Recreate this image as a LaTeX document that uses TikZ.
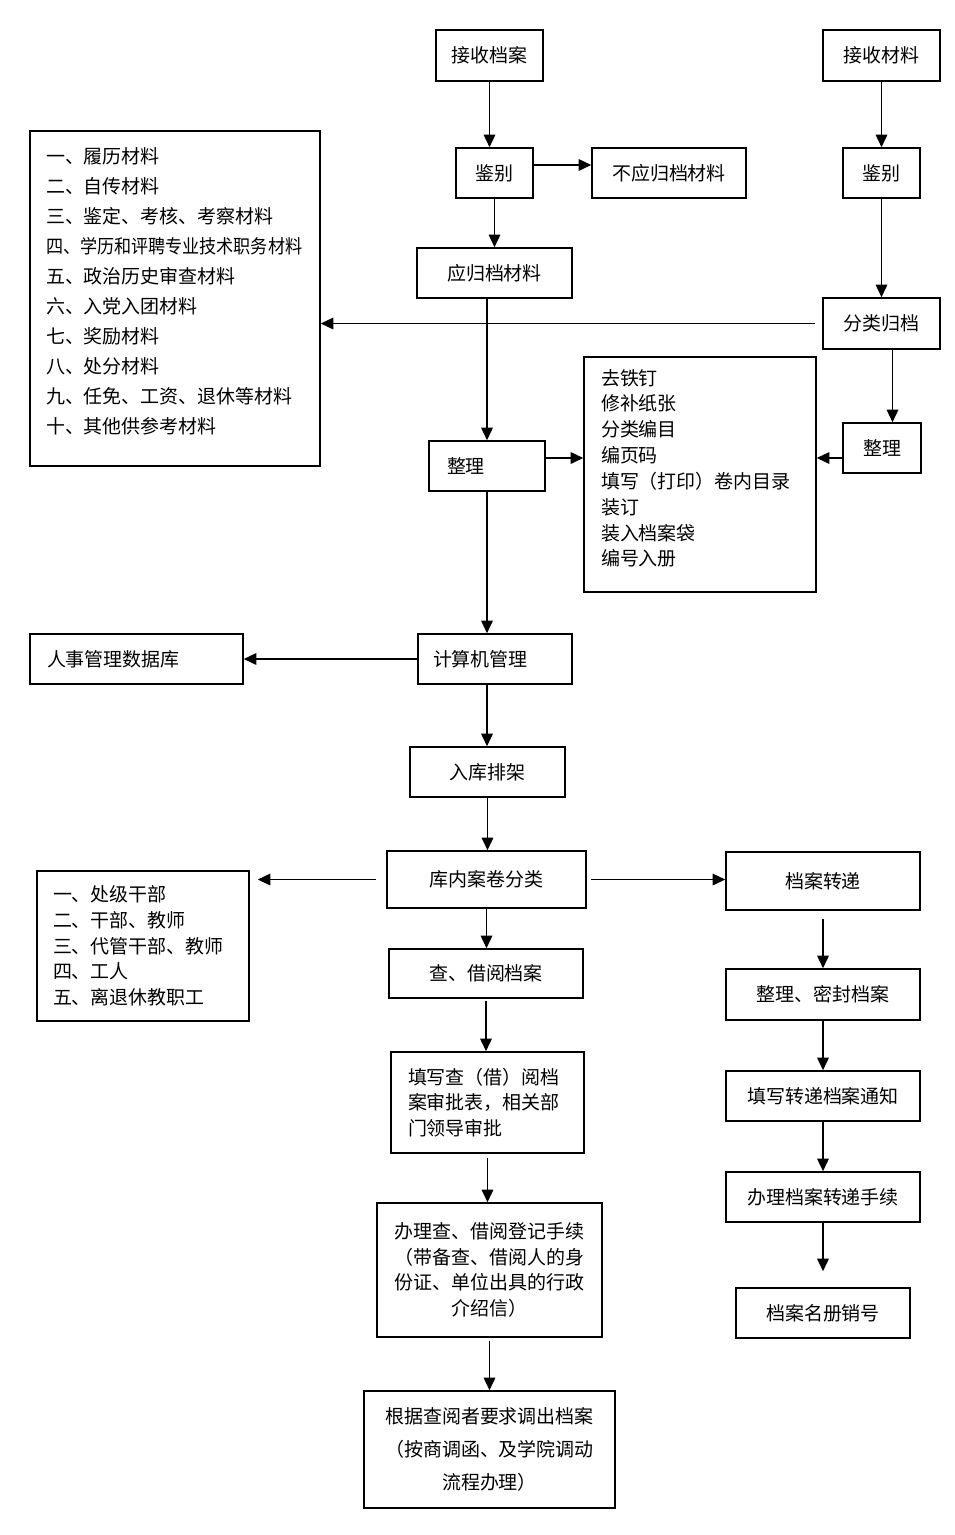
\documentclass[tikz,border=0pt]{standalone}
\usepackage{fontspec}
\setmainfont{Noto Sans CJK SC}
\usepackage{tikz}
\usetikzlibrary{arrows.meta}

\begin{document}
\begin{tikzpicture}[x=0.02cm,y=-0.02cm,
    box/.style={draw, line width=0.9pt, inner sep=0pt, align=center,
                font=\fontsize{10.8}{14.7}\selectfont},
    lbox/.style={box, align=left},
    arr/.style={line width=0.9pt, -{Triangle[length=2.5mm,width=2.3mm]}}]
    \useasboundingbox (0,0) rectangle (955,1535);

    % top: receiving
    \node[box, minimum width=2.14cm, minimum height=1.02cm] (jsda) at (489.5,55.5) {接收档案};
    \node[box, minimum width=2.34cm, minimum height=1.02cm] (jscl) at (881.5,55.5) {接收材料};
    \node[box, minimum width=1.54cm, minimum height=1cm] (jb1) at (494.5,173) {鉴别};
    \node[box, minimum width=3.08cm, minimum height=1cm] (bygd) at (669,173) {不应归档材料};
    \node[box, minimum width=1.54cm, minimum height=1cm] (jb2) at (881.5,173) {鉴别};
    \node[box, minimum width=3.1cm, minimum height=1cm] (ygd) at (494.5,273) {应归档材料};
    \node[box, minimum width=2.34cm, minimum height=1.02cm] (flgd) at (881.5,323.5) {分类归档};

    \node[lbox, font=\fontsize{10.8}{17.07}\selectfont, text width=5.16cm, inner xsep=0.32cm,
          minimum height=6.7cm] (cllist) at (175,298.5)
        {一、履历材料\\二、自传材料\\三、鉴定、考核、考察材料\\
         \scalebox{0.9}[1]{四、学历和评聘专业技术职务材料}\\五、政治历史审查材料\\
         六、入党入团材料\\七、奖励材料\\八、处分材料\\九、任免、工资、退休等材料\\
         十、其他供参考材料\rule[-0.32cm]{0pt}{0pt}};

    % sorting
    \node[lbox, text width=1.6cm, inner xsep=0.36cm, minimum height=1cm] (zl1) at (487,466) {整理};
    \node[lbox, text width=3.96cm, inner xsep=0.34cm, minimum height=4.7cm] (zlsteps) at (700,474.5)
        {去铁钉\\修补纸张\\分类编目\\编页码\\填写（打印）卷内目录\\装订\\装入档案袋\\
         编号入册\rule[-0.28cm]{0pt}{0pt}};
    \node[box, minimum width=1.56cm, minimum height=1cm] (zl2) at (882,448) {整理};

    \node[lbox, text width=2.48cm, inner xsep=0.3cm, minimum height=1cm] (jsj) at (495,659) {计算机管理};
    \node[lbox, text width=3.58cm, inner xsep=0.34cm, minimum height=1cm] (rsk) at (136.5,659) {人事管理数据库};
    \node[box, minimum width=3.1cm, minimum height=1cm] (rkpj) at (487.5,772) {入库排架};
    \node[box, minimum width=3.98cm, minimum height=1.14cm] (knfl) at (486.5,879.5) {库内案卷分类};
    \node[lbox, font=\fontsize{10.8}{14.6}\selectfont, text width=3.6cm, inner xsep=0.32cm,
          minimum height=3cm] (fllist) at (143,946)
        {一、处级干部\\二、干部、教师\\三、代管干部、教师\\四、工人\\五、离退休教职工};

    % borrowing
    \node[box, minimum width=3.88cm, minimum height=0.98cm] (cjy) at (486,973.5) {查、借阅档案};
    \node[lbox, text width=3.18cm, inner xsep=0.34cm, minimum height=2.02cm] (txsp) at (487.5,1102.5)
        {填写查（借）阅档\\案审批表，相关部\\门领导审批};
    \node[box, text width=4.2cm, minimum width=4.5cm, minimum height=2.68cm] (bldj) at (489.5,1270)
        {办理查、借阅登记手续\\（带备查、借阅人的身\\份证、单位出具的行政\\介绍信）};
    \node[box, font=\fontsize{10.8}{18.7}\selectfont, text width=4.7cm, minimum width=5.02cm,
          minimum height=2.34cm] (gj) at (489.5,1449.5)
        {根据查阅者要求调出档案\\（按商调函、及学院调动\\流程办理）};

    % transfer
    \node[box, minimum width=3.88cm, minimum height=1.16cm] (dazd) at (823,881) {档案转递};
    \node[box, minimum width=3.88cm, minimum height=1.02cm] (zlmf) at (823,994.5) {整理、密封档案};
    \node[box, minimum width=3.88cm, minimum height=1cm] (txtz) at (823,1096) {填写转递档案通知};
    \node[box, minimum width=3.88cm, minimum height=1cm] (blzd) at (823,1197) {办理档案转递手续};
    \node[box, minimum width=3.48cm, minimum height=1cm] (dcxh) at (823,1313) {档案名册销号};

    % connectors
    \draw[arr] (jsda.south) -- (jsda.south |- jb1.north);
    \draw[arr] ([yshift=0.16cm]jb1.east) -- ([yshift=0.16cm]jb1.east -| bygd.west);
    \draw[arr] (jb1.south) -- (jb1.south |- ygd.north);
    \draw[arr] (jscl.south) -- (jscl.south |- jb2.north);
    \draw[arr] (jb2.south) -- (jb2.south |- flgd.north);
    \draw[arr, shorten <=0.14cm] (flgd.west) -- (flgd.west -| cllist.east);
    \draw[arr] (zl1.north |- ygd.south) -- (zl1.north);
    \draw[arr] ([xshift=0.22cm]flgd.south) -- ([xshift=0.22cm]flgd.south |- zl2.north);
    \draw[arr] ([yshift=0.16cm]zl1.east) -- ([yshift=0.16cm]zl1.east -| zlsteps.west);
    \draw[arr] ([yshift=-0.2cm]zl2.west) -- ([yshift=-0.2cm]zl2.west -| zlsteps.east);
    \draw[arr] (zl1.south) -- (zl1.south |- jsj.north);
    \draw[arr] (jsj.west) -- (jsj.west -| rsk.east);
    \draw[arr] (zl1.south |- jsj.south) -- (zl1.south |- rkpj.north);
    \draw[arr] (rkpj.south) -- (rkpj.south |- knfl.north);
    \draw[arr, shorten <=0.2cm, shorten >=0.16cm] (knfl.west) -- (knfl.west -| fllist.east);
    \draw[arr, shorten <=0.08cm] (knfl.east) -- (knfl.east -| dazd.west);
    \draw[arr] (knfl.south) -- (knfl.south |- cjy.north);
    \draw[arr, shorten <=0.04cm] (cjy.south) -- (cjy.south |- txsp.north);
    \draw[arr, shorten <=0.08cm] (txsp.south) -- (txsp.south |- bldj.north);
    \draw[arr, shorten <=0.06cm] (bldj.south) -- (bldj.south |- gj.north);
    \draw[arr, shorten <=0.16cm] (dazd.south) -- (dazd.south |- zlmf.north);
    \draw[arr] (zlmf.south) -- (zlmf.south |- txtz.north);
    \draw[arr] (txtz.south) -- (txtz.south |- blzd.north);
    \draw[arr, shorten >=0.32cm] (blzd.south) -- (blzd.south |- dcxh.north);
\end{tikzpicture}
\end{document}
